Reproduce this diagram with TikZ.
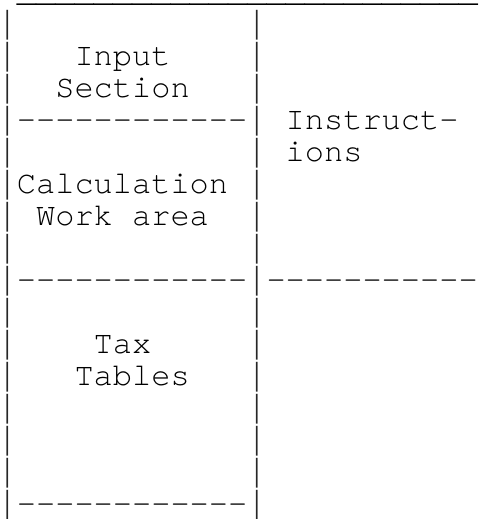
\documentclass[tikz,border=0pt]{standalone}
\usepackage{fontspec}
\usepackage{graphicx}
\newfontfamily\asciifont{texgyrecursor-regular.otf}
\newfontfamily\barfont{Liberation Mono}
\newcommand\hy{-{}}
\newcommand\hyten{\hy\hy\hy\hy\hy\hy\hy\hy\hy\hy}
\newcommand\usc{\_\_\_\_\_\_\_\_\_\_\_\_}
\tikzset{
  ascii/.style={anchor=base west, inner sep=0pt, outer sep=0pt,
    font=\asciifont\fontsize{32}{32}\selectfont, text=black},
  barglyph/.style={anchor=base, inner sep=0pt, outer sep=0pt,
    font=\barfont\fontsize{32}{32}\selectfont, text=black!85}}
\def\cw{19.2}
\def\bz{1.5}
\newcommand\asc[4]{\node[ascii] (#1) at (#2*\cw-2.3, \bz+#3*32) {#4};}
\newcommand\vbar[3]{\node[barglyph] (#1) at (#2*\cw-2.3+9.6, \bz+#3*32) {\scalebox{0.65}[1]{|}};}
\begin{document}
\begin{tikzpicture}[x=1pt,y=-1pt]
\useasboundingbox (0,0) rectangle (479,519);
% top rule
\asc{top}{1}{0}{\usc\usc}
% vertical bars
\foreach \r in {1,...,16}{
  \vbar{bl\r}{0}{\r}
  \vbar{br\r}{13}{\r}
}
% dashed rows
\asc{sepA}{1}{4}{\hyten\hy\hy}
\asc{sepB}{1}{9}{\hyten\hy\hy}
\asc{sepC}{14}{9}{\hyten\hy}
\asc{sepD}{1}{16}{\hyten\hy\hy}
% labels
\asc{input}{4}{2}{Input}
\asc{section}{3}{3}{Section}
\asc{instr}{15}{4}{Instruct-}
\asc{ions}{15}{5}{ions}
\asc{calc}{1}{6}{Calculation}
\asc{work}{2}{7}{Work area}
\asc{tax}{5}{11}{Tax}
\asc{tables}{4}{12}{Tables}
\end{tikzpicture}
\end{document}
